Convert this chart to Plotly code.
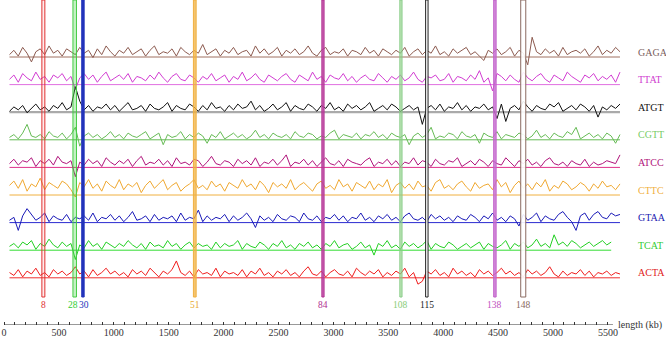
import plotly.graph_objects as go

# ---------------- data ----------------
series_names = ["GAGA", "TTAT", "ATGT", "CGTT", "ATCC", "CTTC", "GTAA", "TCAT", "ACTA"]
kb_start = 50
kb_step = 40

gaga = [3,6,2,8,4,-2,5,7,3,9,4,6,2,7,5,3,8,4,6,1,7,3,9,5,2,6,4,8,3,5,7,2,6,9,3,5,4,7,2,8,5,3,6,4,10,3,5,7,2,6,4,8,3,5,6,2,9,4,7,3,5,8,2,6,4,7,3,5,9,4,2,6,8,3,5,4,7,2,6,5,3,8,4,6,2,7,5,3,6,4,8,2,5,7,3,6,4,9,3,5,2,7,4,6,8,3,5,2,-1,6,4,7,3,5,8,2,6,4,-4,15,5,3,7,4,6,2,8,3,5,6,4,7,2,5,9,3,6,4,8,5]
ttat = [5,8,3,9,6,4,10,5,7,3,8,6,9,4,7,-2,6,9,5,8,3,7,10,4,6,8,5,9,3,7,6,4,8,5,10,6,3,7,9,5,4,8,6,3,7,5,9,4,6,8,3,7,5,10,4,6,9,5,3,8,6,4,7,9,5,3,8,6,4,10,5,7,3,8,6,5,9,4,7,3,6,8,5,4,9,6,3,7,5,8,4,6,10,5,3,7,6,8,4,5,9,3,7,6,4,8,5,11,3,6,-3,9,7,4,8,5,3,10,6,4,7,9,5,3,8,6,4,10,7,5,3,8,6,9,4,7,5,8,3,10]
atgt = [2,5,3,6,1,4,7,3,5,2,6,4,8,3,5,19,9,3,6,2,5,4,7,3,6,2,5,8,3,4,6,2,7,4,3,5,8,2,6,4,3,7,5,2,6,3,8,4,5,2,6,3,7,4,5,9,3,6,2,4,7,3,5,8,2,6,4,3,7,5,2,6,4,8,3,5,2,7,4,6,3,5,8,2,4,6,3,7,5,2,4,6,3,5,-7,4,6,3,7,2,5,4,8,3,6,2,5,4,7,3,5,-3,7,-5,4,6,3,9,5,2,6,4,3,7,5,8,2,4,6,3,7,5,2,6,-2,5,3,6,4,7]
cgtt = [3,5,2,6,12,4,3,5,2,7,4,3,6,2,5,10,-3,4,6,3,5,2,4,7,3,5,2,6,4,3,5,7,2,4,6,-2,5,3,4,7,2,5,3,6,4,-1,5,3,7,2,4,6,3,5,2,4,8,3,5,2,6,4,3,5,2,7,4,3,6,5,2,4,3,6,8,2,5,4,3,6,2,5,4,7,3,5,2,6,4,3,5,-2,4,6,3,5,10,2,4,3,6,5,2,7,4,3,5,-1,6,4,3,7,2,5,4,3,6,5,2,4,8,3,5,2,6,4,3,7,5,10,2,4,6,3,5,2,6,4,-1,5]
atcc = [4,7,3,6,5,8,2,6,4,7,3,9,5,4,6,-5,5,3,7,4,6,2,8,5,3,6,4,7,2,6,9,3,5,4,7,3,6,2,8,4,5,3,7,6,2,5,9,4,3,6,5,2,7,4,6,3,8,2,5,4,7,3,6,10,2,5,4,7,3,6,2,5,8,4,3,6,2,7,5,4,3,6,8,2,5,4,7,3,6,2,5,4,8,3,6,5,2,7,4,3,6,5,8,2,4,6,3,7,5,2,6,4,3,8,5,2,6,4,7,3,5,2,6,8,4,3,5,2,6,4,3,7,2,5,3,4,6,5,4,10]
cttc = [8,11,6,12,4,9,7,13,5,10,8,6,11,9,5,0,10,7,12,6,9,4,11,8,6,12,5,9,7,10,3,8,11,6,9,12,5,8,10,4,7,9,12,6,8,5,11,7,9,4,10,8,6,12,7,9,5,11,8,3,10,7,9,6,12,5,8,10,7,4,9,11,6,8,5,12,7,9,4,10,8,6,11,5,9,7,12,3,8,10,6,9,5,11,7,8,4,10,12,6,8,5,9,11,7,4,10,6,8,9,5,12,7,10,3,8,11,6,9,5,10,7,12,4,8,6,11,9,5,7,10,8,4,9,6,11,7,8,5,9]
gtaa = [3,5,-4,6,11,7,3,5,8,2,6,4,3,7,2,5,4,6,3,8,2,5,4,7,3,6,2,5,9,3,4,6,2,7,3,5,4,6,2,8,3,5,4,10,2,6,3,5,4,7,2,6,3,5,8,4,-2,6,3,5,2,7,4,3,6,5,2,8,4,3,6,2,5,4,7,3,6,2,5,4,8,3,5,2,6,4,7,3,5,2,6,8,4,3,5,2,7,4,6,3,5,2,6,4,3,7,5,2,6,4,8,3,5,2,6,4,-1,7,3,5,8,2,6,4,3,7,9,5,2,-4,6,8,3,7,9,5,4,8,6,7]
tcat = [4,6,3,7,5,8,2,6,4,9,5,3,7,4,6,-5,5,3,8,4,6,2,7,5,3,6,4,8,5,3,6,2,7,4,5,3,8,4,6,2,5,7,3,6,4,5,2,7,3,6,4,5,8,2,6,4,3,7,5,2,6,4,8,3,5,2,6,4,7,3,5,2,6,4,8,3,5,6,2,4,7,3,5,-2,6,4,8,3,5,2,7,4,6,3,5,8,2,6,4,3,7,5,2,4,6,3,5,7,2,6,4,3,5,8,2,6,4,7,3,5,9,4,6,3,12,5,7,4,8,6,3,5,7,4,6,8,5,7]
acta = [5,3,7,2,6,4,8,3,5,2,7,4,6,3,5,9,4,6,2,7,3,5,8,4,6,3,5,2,7,4,6,3,8,5,2,6,4,7,13,5,3,6,2,7,4,5,3,8,2,6,4,5,3,7,2,6,4,8,3,5,2,6,4,7,3,5,2,6,9,4,3,6,2,5,7,4,3,6,2,8,5,3,6,4,7,2,5,3,6,4,8,2,5,-3,-1,6,4,7,3,5,2,8,4,6,3,5,2,7,4,6,3,5,8,4,6,3,5,2,7,4,6,3,5,9,4,2,6,3,5,4,7,3,6,2,5,4,6,3,5,4]
series_values = [gaga, ttat, atgt, cgtt, atcc, cttc, gtaa, tcat, acta]

# highlighted regions (kb start, kb end) and their labels
region_labels = ["8", "28", "30", "51", "84", "108", "115", "138", "148"]
region_start = [345, 628, 708, 1725, 2895, 3605, 3840, 4460, 4706]
region_end = [372, 660, 730, 1750, 2915, 3625, 3862, 4482, 4752]

tick_values = [0, 500, 1000, 1500, 2000, 2500, 3000, 3500, 4000, 4500, 5000, 5500]
minor_tick_values = list(range(0, 5501, 100))

# ---------------- styles ----------------
FONT = "Liberation Serif"
series_colors = ["#8c5a4f", "#d23cd2", "#111111", "#66bb55", "#b0127a",
                 "#f0a830", "#1a1ab8", "#22d022", "#f01c1c"]
label_colors = ["#7a6060", "#d040d0", "#111111", "#77cc66", "#b0127a",
                "#f0b040", "#2020b0", "#33cc33", "#e02020"]
baseline_colors = ["#a07060", "#e070e0", "#aaaaaa", "#66bb55", "#e0308a",
                   "#f0b040", "#2a2ad0", "#33dd33", "#f03030"]
baseline_widths = [1, 1, 2.2, 1, 1, 1, 1, 1, 1]
region_line = ["#e03030", "#44cc44", "#2233bb", "#f0b040", "#b03090",
               "#88cc88", "#222222", "#c060c8", "#8a6a60"]
region_fill = ["rgba(255,80,80,0.10)", "rgba(60,210,60,0.30)", "rgba(34,51,187,1)",
               "rgba(240,176,64,0.75)", "rgba(190,60,160,0.80)", "rgba(140,210,130,0.55)",
               "rgba(255,255,255,0.9)", "rgba(200,110,210,0.80)", "rgba(255,255,255,0.9)"]
label_text_colors = ["#e03030", "#33cc33", "#2233bb", "#e8a830", "#b03090",
                     "#88cc77", "#222222", "#c050c0", "#8a6a60"]
label_xshift = [0, -1.5, 1.5, 0, 0, 0, 0, 0, 0]

W, H = 666, 346
PX_PER_KB = 0.1098
X0_PX = 4
MARGIN_R = 40
PLOT_BOTTOM = 325
first_base = 57
spacing = 27.6
amp = 1.45        # pixels per unit of signal
zero_offset = 2   # signal zero sits this many px below the drawn baseline

x_lo = -X0_PX / PX_PER_KB
x_hi = (W - MARGIN_R - X0_PX) / PX_PER_KB
plot_w = W - MARGIN_R

fig = go.Figure()

for i, (name, vals) in enumerate(zip(series_names, series_values)):
    base = first_base + spacing * i
    xs = [kb_start + kb_step * j for j in range(len(vals))]
    fig.add_trace(go.Scatter(x=[xs[0], xs[-1]], y=[base, base], mode="lines",
                             line=dict(color=baseline_colors[i], width=baseline_widths[i]),
                             hoverinfo="skip", showlegend=False))
    fig.add_trace(go.Scatter(x=xs, y=[base + zero_offset - amp * v for v in vals], mode="lines",
                             line=dict(color=series_colors[i], width=1),
                             name=name, showlegend=False))
    fig.add_annotation(xref="paper", yref="y", x=636 / plot_w, y=base - 5,
                       text=name, showarrow=False, xanchor="left", yanchor="middle",
                       font=dict(family=FONT, size=10, color=label_colors[i]))

for k in range(len(region_labels)):
    fig.add_shape(type="rect", xref="x", yref="y",
                  x0=region_start[k], x1=region_end[k], y0=0, y1=297,
                  line=dict(color=region_line[k], width=1),
                  fillcolor=region_fill[k], layer="above")
    fig.add_annotation(xref="x", yref="y", x=(region_start[k] + region_end[k]) / 2, y=305,
                       text=region_labels[k], showarrow=False, xshift=label_xshift[k],
                       xanchor="center", yanchor="middle",
                       font=dict(family=FONT, size=9.5, color=label_text_colors[k]))

fig.add_shape(type="line", xref="x", yref="y", x0=0, x1=5546,
              y0=PLOT_BOTTOM, y1=PLOT_BOTTOM, line=dict(color="#333333", width=1))

fig.add_annotation(xref="paper", yref="paper", x=616 / plot_w, y=0,
                   text="length (kb)", showarrow=False, xanchor="left", yanchor="middle",
                   font=dict(family=FONT, size=10, color="#333333"))

fig.update_layout(
    width=W, height=H,
    margin=dict(l=0, r=MARGIN_R, t=0, b=H - PLOT_BOTTOM, autoexpand=False),
    plot_bgcolor="white", paper_bgcolor="white",
    xaxis=dict(range=[x_lo, x_hi], showgrid=False, zeroline=False, showline=False,
               automargin=False,
               tickmode="array", tickvals=tick_values,
               ticktext=[str(t) for t in tick_values],
               ticks="inside", ticklen=3, tickcolor="#333333", tickwidth=1,
               minor=dict(tickmode="array", tickvals=minor_tick_values,
                          ticks="inside", ticklen=3, tickcolor="#333333", tickwidth=1,
                          showgrid=False),
               tickfont=dict(family=FONT, size=10, color="#333333")),
    yaxis=dict(range=[PLOT_BOTTOM, 0], visible=False, showgrid=False, zeroline=False),
    showlegend=False,
)

fig.write_html(
    "out.html",
    config={"displayModeBar": False},
    post_script="document.body.style.margin='0';document.body.style.overflow='hidden';",
)
